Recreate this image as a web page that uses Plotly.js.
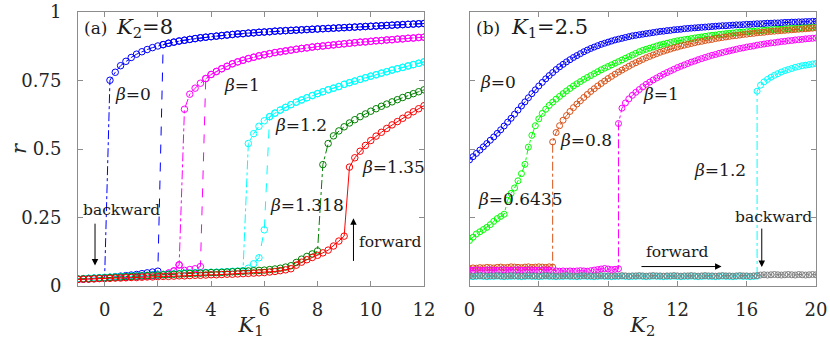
<!DOCTYPE html>
<html><head><meta charset="utf-8">
<script src="https://cdn.plot.ly/plotly-3.0.1.min.js"></script>
<style>html,body{margin:0;padding:0;background:#fff}#chart{width:830px;height:339px}</style>
</head><body><div id="chart"></div>
<script>
// ---------- sampling grids ----------
const k1Grid = [-1,-0.8,-0.6,-0.4,-0.2,0,0.2,0.4,0.6,0.8,1,1.2,1.4,1.6,1.8,2,2.2,2.4,2.6,2.8,3,3.2,3.4,3.6,3.8,4,4.2,4.4,4.6,4.8,5,5.2,5.4,5.6,5.8,6,6.2,6.4,6.6,6.8,7,7.2,7.4,7.6,7.8,8,8.2,8.4,8.6,8.8,9,9.2,9.4,9.6,9.8,10,10.2,10.4,10.6,10.8,11,11.2,11.4,11.6,11.8,12];
const k2Grid = [0,0.2,0.4,0.6,0.8,1,1.2,1.4,1.6,1.8,2,2.2,2.4,2.6,2.8,3,3.2,3.4,3.6,3.8,4,4.2,4.4,4.6,4.8,5,5.2,5.4,5.6,5.8,6,6.2,6.4,6.6,6.8,7,7.2,7.4,7.6,7.8,8,8.2,8.4,8.6,8.8,9,9.2,9.4,9.6,9.8,10,10.2,10.4,10.6,10.8,11,11.2,11.4,11.6,11.8,12,12.2,12.4,12.6,12.8,13,13.2,13.4,13.6,13.8,14,14.2,14.4,14.6,14.8,15,15.2,15.4,15.6,15.8,16,16.2,16.4,16.6,16.8,17,17.2,17.4,17.6,17.8,18,18.2,18.4,18.6,18.8,19,19.2,19.4,19.6,19.8,20];

// ---------- panel (a): K2 = 8, r vs K1 ----------
const a_b0_lowR = [.025,.026,.027,.028,.029,.030,.032,.034,.036,.038,.040,.042,.045,.048,.051,.054];
const a_b0_upR = [.751,.780,.804,.820,.834,.846,.855,.863,.870,.876,
 .881,.886,.890,.894,.897,.900,.903,.906,.908,.910,
 .912,.914,.916,.918,.920,.921,.923,.924,.926,.927,
 .928,.930,.931,.932,.933,.934,.935,.936,.937,.938,
 .939,.940,.941,.942,.943,.944,.945,.946,.947,.948,
 .949,.950,.951,.952,.953,.954,.955,.956,.957,.958];
const a_b1_lowR = [.024,.025,.026,.027,.028,.029,.030,.031,.032,.033,.034,.035,.036,.037,.038,.040,.042,.047,.055,.077,.057,.060,.063,.071];
const a_b1_upR = [.645,.700,.722,.740,.757,.772,.783,.793,.802,.811,
 .818,.824,.830,.835,.840,.844,.848,.852,.855,.858,
 .861,.864,.867,.869,.872,.874,.876,.878,.880,.882,
 .884,.886,.888,.890,.891,.893,.895,.896,.898,.899,
 .901,.902,.904,.905,.907,.908];
const a_b12_lowR = [.026,.027,.028,.029,.030,.031,.032,.033,.034,.035,
 .036,.037,.038,.039,.040,.041,.042,.043,.044,.045,
 .046,.047,.048,.048,.049,.050,.050,.051,.052,.053,
 .054,.056,.065,.081,.103,.205];
const a_b12_upR = [.520,.556,.583,.603,.618,.631,.642,.652,.662,.671,
 .679,.687,.695,.702,.709,.716,.722,.728,.736,.742,
 .748,.754,.760,.766,.771,.777,.782,.788,.793,.798,
 .803,.808,.813,.818];
const a_b1318_lowR = [.025,.026,.027,.028,.029,.030,.031,.032,.033,.034,
 .035,.036,.037,.038,.039,.040,.041,.042,.043,.044,
 .045,.046,.047,.047,.048,.049,.049,.050,.051,.052,
 .053,.054,.055,.056,.057,.058,.060,.062,.065,.069,
 .074,.086,.098,.108,.117,.128];
const a_b1318_upR = [.443,.520,.548,.566,.581,.595,.607,.618,.628,.638,.647,.656,.664,.672,.680,.688,.695,.702,.709,.716];
const a_b135_lowR = [.024,.025,.025,.026,.027,.027,.028,.029,.029,.030,
 .031,.031,.032,.033,.033,.034,.035,.035,.036,.037,
 .037,.038,.039,.039,.040,.041,.041,.042,.043,.043,
 .044,.045,.046,.047,.048,.049,.051,.053,.056,.059,
 .063,.076,.087,.096,.104,.112,.121,.131,.146,.164,
 .182];
const a_b135_upR = [.434,.468,.492,.513,.531,.547,.561,.575,.588,.600,.612,.624,.636,.647,.658];

// ---------- panel (b): K1 = 2.5, r vs K2 ----------
const b_b0R = [.460,.472,.484,.496,.508,.520,.532,.544,.557,.570,
 .584,.598,.612,.627,.642,.657,.672,.687,.702,.716,
 .730,.743,.756,.768,.779,.790,.800,.809,.818,.826,
 .834,.841,.848,.855,.861,.867,.872,.877,.882,.886,
 .890,.894,.898,.901,.904,.907,.910,.913,.915,.917,
 .919,.921,.923,.925,.927,.929,.930,.932,.933,.935,
 .936,.937,.939,.940,.941,.942,.943,.944,.945,.946,
 .947,.948,.949,.950,.950,.951,.952,.953,.953,.954,
 .955,.955,.956,.957,.957,.958,.959,.959,.960,.960,
 .961,.962,.962,.963,.963,.964,.964,.965,.965,.966,
 .966];
const b_b06435R = [.166,.178,.190,.198,.206,.214,.224,.236,.246,.254,
 .262,.313,.338,.358,.384,.410,.444,.507,.550,.585,
 .610,.630,.645,.659,.671,.682,.692,.702,.712,.721,
 .730,.738,.746,.754,.761,.768,.775,.782,.789,.795,
 .801,.807,.813,.819,.825,.831,.837,.843,.849,.855,
 .860,.864,.868,.872,.876,.880,.883,.886,.889,.892,
 .895,.897,.899,.901,.903,.905,.907,.909,.911,.913,
 .915,.916,.918,.919,.921,.922,.923,.925,.926,.927,
 .928,.929,.930,.931,.932,.933,.934,.935,.936,.937,
 .937,.938,.939,.940,.940,.941,.942,.942,.943,.944,
 .944];
const b_b08_lowR = [.064,.066,.065,.067,.066,.068,.067,.066,.068,.069,.067,.068,.070,.069,.068,.067,.069,.070,.068,.069,.070,.069,.068,.070,.069];
const b_b08_upR = [.526,.560,.585,.605,.622,.637,.651,.664,.676,.688,
 .699,.710,.720,.730,.739,.748,.757,.765,.773,.781,
 .788,.795,.802,.809,.815,.821,.827,.833,.838,.843,
 .848,.853,.857,.861,.865,.869,.872,.876,.879,.882,
 .885,.888,.891,.893,.896,.898,.900,.903,.905,.907,
 .909,.911,.913,.914,.916,.918,.919,.921,.922,.924,
 .925,.926,.928,.929,.930,.931,.932,.933,.934,.935,
 .936,.937,.938,.939,.940,.941,.942];
const b_b1_lowR = [.058,.057,.059,.058,.057,.058,.059,.058,.057,.058,
 .059,.058,.057,.058,.059,.058,.057,.058,.059,.058,
 .057,.058,.059,.058,.056,.055,.054,.055,.054,.055,
 .054,.055,.056,.055,.054,.056,.058,.060,.062,.064,
 .062,.060,.061,.063];
const b_b1_upR = [.593,.649,.668,.683,.696,.707,.717,.727,.736,.744,
 .752,.759,.766,.773,.779,.785,.791,.797,.802,.807,
 .812,.817,.821,.826,.830,.834,.838,.842,.845,.849,
 .852,.855,.858,.861,.864,.867,.869,.872,.874,.876,
 .879,.881,.883,.885,.887,.888,.890,.892,.893,.895,
 .896,.898,.899,.900,.902,.903,.904,.905];
const b_b12_lowR = [.035,.034,.035,.036,.035,.034,.035,.035,.036,.035,
 .034,.035,.035,.036,.035,.034,.035,.036,.035,.035,
 .034,.035,.036,.035,.035,.034,.035,.035,.036,.035,
 .035,.034,.035,.036,.035,.035,.034,.035,.036,.035,
 .035,.034,.035,.035,.036,.035,.034,.035,.035,.036,
 .035,.034,.035,.036,.035,.035,.034,.035,.035,.036,
 .035,.034,.035,.035,.036,.035,.034,.035,.036,.035,
 .035,.034,.035,.036,.035,.035,.034,.035,.036,.035,
 .035,.034,.035,.036];
const b_b12_upR = [.711,.733,.745,.754,.762,.769,.775,.781,.786,.790,.794,.798,.801,.804,.806,.808,.810,.812];
const b_grayR = [.037,.036,.037,.038,.037,.036,.037,.037,.038,.037,
 .036,.037,.038,.037,.037,.036,.037,.038,.037,.037,
 .036,.037,.038,.037,.037,.036,.037,.037,.038,.037,
 .037,.036,.037,.038,.037,.037,.036,.037,.038,.037,
 .037,.036,.037,.037,.038,.037,.036,.037,.037,.038,
 .037,.036,.037,.038,.037,.037,.036,.037,.037,.038,
 .037,.036,.037,.037,.038,.037,.036,.037,.038,.037,
 .037,.036,.037,.038,.037,.037,.036,.037,.038,.037,
 .037,.036,.037,.038,.040,.041,.040,.041,.042,.041,
 .040,.041,.042,.041,.040,.042,.041,.040,.041,.042,
 .041];

// ---------- ticks ----------
const yTickVals = [0,0.25,0.5,0.75,1];
const yTickText = ['0','0.25','0.5','0.75','1'];
const x1TickVals = [0,2,4,6,8,10,12];
const x2TickVals = [0,4,8,12,16,20];

// ---------- helpers ----------
function br(grid, start, vals){
  const i = grid.findIndex(v => Math.abs(v - start) < 1e-9);
  return {x: grid.slice(i, i + vals.length), y: vals.slice()};
}
function pick(b, f){ const x=[],y=[]; b.x.forEach((v,i)=>{ if(f(v)){x.push(v);y.push(b.y[i]);} }); return {x,y}; }
function rev(b){ return {x:b.x.slice().reverse(), y:b.y.slice().reverse()}; }
function cat(a,b){ return {x:a.x.concat(b.x), y:a.y.concat(b.y)}; }
function tr(b, xa, ya, color, dash, ms){
  return {type:'scatter', mode:'lines+markers', x:b.x, y:b.y, xaxis:xa, yaxis:ya,
    line:{color:color, width:1, dash:dash},
    marker:{symbol:'circle-open', size:ms, color:color, line:{width:1, color:color}},
    hoverinfo:'skip', showlegend:false};
}

const BLUE='#0000FF', MAG='#FF00FF', CYAN='#00FFFF', DGREEN='#008000', RED='#FF0000',
      LGREEN='#00FF00', ORANGE='#D95319', GRAY='#808080';

const a0l = br(k1Grid,-1,a_b0_lowR), a0u = br(k1Grid,0.2,a_b0_upR);
const a1l = br(k1Grid,-1,a_b1_lowR), a1u = br(k1Grid,3.0,a_b1_upR);
const a2l = br(k1Grid,-1,a_b12_lowR), a2u = br(k1Grid,5.4,a_b12_upR);
const a3 = cat(br(k1Grid,-1,a_b1318_lowR), br(k1Grid,8.2,a_b1318_upR));
const a4 = cat(br(k1Grid,-1,a_b135_lowR), br(k1Grid,9.2,a_b135_upR));

const MS1 = 6.5, MS2 = 6;
const traces = [
  tr(cat(a0l, pick(a0u, v=>v>2.1)), 'x','y', BLUE, 'dash', MS1),
  tr(cat(rev(a0u), rev(pick(a0l, v=>v<0.1))), 'x','y', BLUE, 'dashdot', MS1),
  tr(cat(a1l, pick(a1u, v=>v>3.7)), 'x','y', MAG, 'dash', MS1),
  tr(cat(rev(a1u), rev(pick(a1l, v=>v<2.9))), 'x','y', MAG, 'dashdot', MS1),
  tr(cat(a2l, pick(a2u, v=>v>6.1)), 'x','y', CYAN, 'dash', MS1),
  tr(cat(rev(a2u), rev(pick(a2l, v=>v<5.3))), 'x','y', CYAN, 'dashdot', MS1),
  tr(a3, 'x','y', DGREEN, 'dashdot', MS1),
  tr(a4, 'x','y', RED, 'solid', MS1),
  tr(br(k2Grid,0,b_b0R), 'x2','y2', BLUE, 'dashdot', MS2),
  tr(br(k2Grid,0,b_b06435R), 'x2','y2', LGREEN, 'dashdot', MS2),
  tr(cat(br(k2Grid,0,b_b08_lowR), br(k2Grid,4.8,b_b08_upR)), 'x2','y2', ORANGE, 'dashdot', MS2),
  tr(cat(br(k2Grid,0,b_b1_lowR), br(k2Grid,8.6,b_b1_upR)), 'x2','y2', MAG, 'dashdot', MS2),
  tr(cat(br(k2Grid,0,b_b12_lowR), br(k2Grid,16.6,b_b12_upR)), 'x2','y2', CYAN, 'dashdot', MS2),
  tr(br(k2Grid,0,b_grayR), 'x2','y2', GRAY, 'dashdot', MS2)
];

const FONT = '"DejaVu Serif", serif';
const TXT = '#1a1a1a';
const AXB = {showline:true, linecolor:'#8c8c8c', linewidth:1, mirror:'ticks', ticks:'inside', ticklen:5,
  tickcolor:'#8c8c8c', tickwidth:1, showgrid:false, zeroline:false,
  tickfont:{family:FONT, size:18, color:'#262626'}};

function txt(xr, yr, x, y, text, size){
  return {xref:xr, yref:yr, x:x, y:y, text:text, showarrow:false, xanchor:'left', yanchor:'middle',
    font:{family:FONT, size:size, color:TXT}};
}
function arr(xr, yr, x, y, ax, ay){
  return {xref:xr, yref:yr, axref:xr, ayref:yr, x:x, y:y, ax:ax, ay:ay, text:'', showarrow:true,
    arrowhead:2, arrowsize:1.3, arrowwidth:1, arrowcolor:'#000'};
}
const B = '<i>β</i>=';
const annotations = [
  txt('x','y',-0.84,0.942,'(a)',17),
  txt('x','y',0.36,0.942,'<i>K</i><sub>2</sub>=8',21),
  txt('x','y',0.30,0.70,B+'0',17),
  txt('x','y',4.42,0.733,B+'1',17),
  txt('x','y',6.31,0.587,B+'1.2',17),
  txt('x','y',9.58,0.434,B+'1.35',17),
  txt('x','y',6.13,0.294,B+'1.318',17),
  txt('x','y',-0.9,0.279,'backward',15.5),
  txt('x','y',9.5,0.16,'forward',15.5),
  arr('x','y',-0.36,0.075,-0.36,0.233),
  arr('x','y',9.35,0.247,9.35,0.086),
  txt('x2','y2',0.28,0.942,'(b)',17),
  txt('x2','y2',2.3,0.942,'<i>K</i><sub>1</sub>=2.5',21),
  txt('x2','y2',0.48,0.745,B+'0',17),
  txt('x2','y2',5.1,0.532,B+'0.8',17),
  txt('x2','y2',0.4,0.319,B+'0.6435',17),
  txt('x2','y2',9.9,0.70,B+'1',17),
  txt('x2','y2',12.85,0.422,B+'1.2',17),
  txt('x2','y2',15.2,0.252,'backward',15.5),
  txt('x2','y2',10.1,0.124,'forward',15.5),
  arr('x2','y2',16.87,0.069,16.87,0.215),
  arr('x2','y2',14.55,0.071,9.84,0.071)
];

const PW = 738;
const TF = {family:FONT, size:21, color:'#262626'};
const layout = {
  width:830, height:339, margin:{l:78,r:14,t:12,b:53}, paper_bgcolor:'#fff', plot_bgcolor:'#fff',
  showlegend:false, font:{family:FONT},
  xaxis: Object.assign({}, AXB, {domain:[0, 346/PW], range:[-1,12], tickvals:x1TickVals, ticklabelstandoff:7, automargin:'top',
    title:{text:'<i>K</i><sub>1</sub>', font:TF, standoff:3}}),
  yaxis: Object.assign({}, AXB, {domain:[0,1], range:[0,1], tickvals:yTickVals, ticktext:yTickText, ticklabelstandoff:12, automargin:false,
    title:{text:'<i>r</i>', font:TF}}),
  xaxis2: Object.assign({}, AXB, {domain:[391.5/PW, 1], range:[0,20], tickvals:x2TickVals, anchor:'y2', ticklabelstandoff:7, automargin:'top',
    title:{text:'<i>K</i><sub>2</sub>', font:TF, standoff:3}}),
  yaxis2: Object.assign({}, AXB, {domain:[0,1], range:[0,1], tickvals:yTickVals, showticklabels:false, anchor:'x2', automargin:false}),
  annotations: annotations
};
Plotly.newPlot('chart', traces, layout, {displayModeBar:false, staticPlot:true});
</script></body></html>
